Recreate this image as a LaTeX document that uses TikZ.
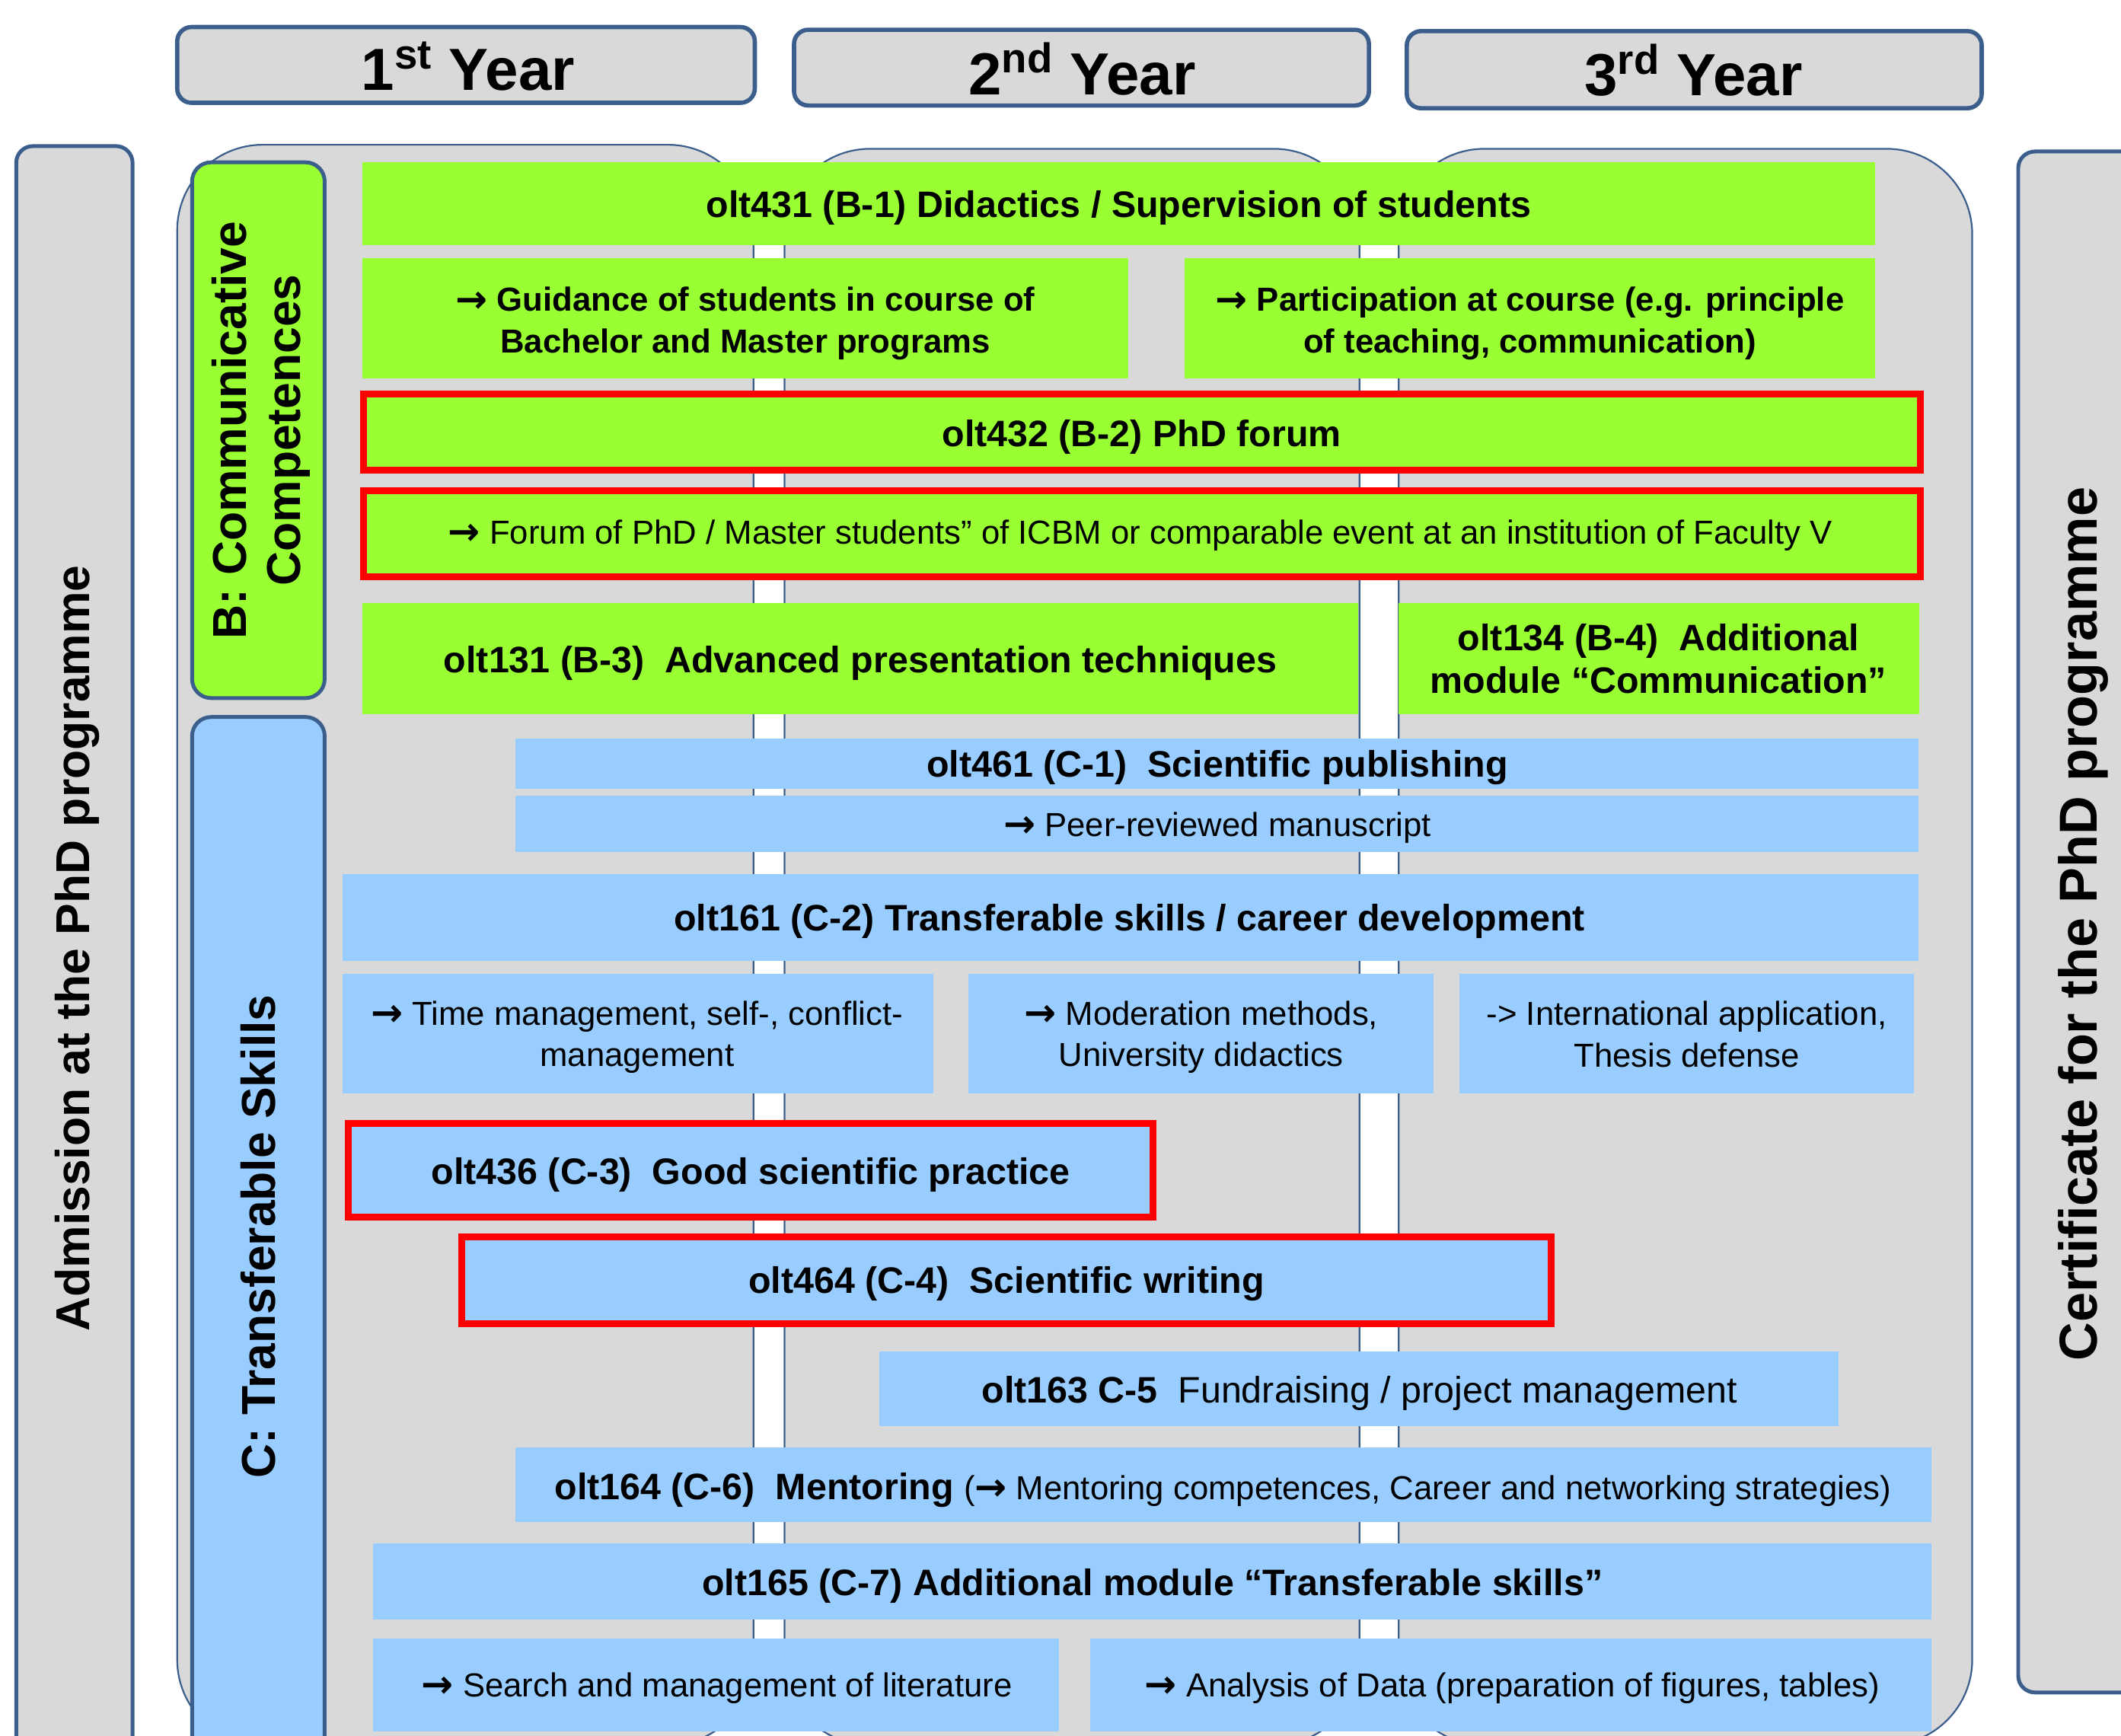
\documentclass[tikz,border=0pt]{standalone}
\usepackage{fontspec}
\setmainfont{Liberation Sans}
\newfontfamily\arrfont{DejaVu Sans}
\newcommand\rarr{\raisebox{-0.03em}{\scalebox{1.15}{\arrfont\bfseries\char"2192}}}
\definecolor{gfill}{HTML}{99FF33}
\definecolor{bfill}{HTML}{99CCFF}
\definecolor{pgray}{HTML}{D9D9D9}
\definecolor{edge}{HTML}{3B5E8C}
\definecolor{rred}{HTML}{FF0000}
\begin{document}
\begin{tikzpicture}[x=0.02cm,y=-0.02cm,
  panel/.style={fill=pgray, draw=edge, line width=0.7pt, rounded corners=36pt},
  hdr/.style={fill=pgray, draw=edge, line width=1.8pt, rounded corners=6pt},
  side/.style={fill=pgray, draw=edge, line width=1.6pt, rounded corners=7pt},
  cat/.style={draw=edge, line width=1.6pt, rounded corners=8pt},
  gbox/.style={fill=gfill},
  bbox/.style={fill=bfill},
  redbox/.style={draw=rred, line width=2.85pt},
  tb/.style={font=\fontsize{15.5}{18}\selectfont\bfseries, align=center, inner sep=0pt, yshift=-1.8pt},
  tbs/.style={font=\fontsize{14}{17.5}\selectfont\bfseries, align=center, inner sep=0pt, yshift=-1.8pt},
  tr/.style={font=\fontsize{14}{17.5}\selectfont, align=center, inner sep=0pt, yshift=-1.5pt},
  yr/.style={font=\fontsize{25}{30}\selectfont\bfseries, inner sep=0pt},
  vt/.style={font=\fontsize{20}{22.8}\selectfont\bfseries, rotate=90, align=center, inner sep=0pt}]
\useasboundingbox (0,0) rectangle (1568,1283);
\clip (0,0) rectangle (1568,1283);

% year headers
\draw[hdr] (131,20) rectangle (558,76);
\node[yr] (y1) at (346,49) {1\textsuperscript{st} Year};
\draw[hdr] (587,22) rectangle (1012,78);
\node[yr] (y2) at (800,51) {2\textsuperscript{nd} Year};
\draw[hdr] (1040,23) rectangle (1465,80);
\node[yr] (y3) at (1252,52) {3\textsuperscript{rd} Year};

% side boxes
\draw[side] (12,108) rectangle (98,1310);
\node[vt, font=\fontsize{20}{24}\selectfont\bfseries] (adm) at (57,701) {Admission at the PhD programme};
\draw[side] (1492,112) rectangle (1640,1251);
\node[vt, font=\fontsize{22.5}{27}\selectfont\bfseries] (cert) at (1540,683) {Certificate for the PhD programme};

% year panels
\draw[panel] (131,107) rectangle (557,1290);
\draw[panel] (580,110) rectangle (1005,1290);
\draw[panel] (1034,110) rectangle (1458,1290);

% category boxes
\draw[cat, fill=gfill] (142,120) rectangle (240,516);
\node[vt] (bt) at (193,318) {B: Communicative\\Competences};
\draw[cat, fill=bfill] (142,530) rectangle (240,1310);
\node[vt] (ct) at (191,914) {C: Transferable Skills};

% B modules
\fill[gbox] (268,120) rectangle (1386,181);
\node[tb] (b1) at (827,150.5) {olt431 (B-1) Didactics / Supervision of students};
\fill[gbox] (268,191) rectangle (834,280);
\node[tbs] (b1a) at (551,236) {\rarr{} Guidance of students in course of\\Bachelor and Master programs};
\fill[gbox] (876,191) rectangle (1386,280);
\node[tbs] (b1b) at (1131,236) {\rarr{} Participation at course (e.g. principle\\of teaching, communication)};
\filldraw[gbox, redbox] (268.5,291.5) rectangle (1419.5,347.5);
\node[tb] (b2) at (844,320) {olt432 (B-2) PhD forum};
\filldraw[gbox, redbox] (268.5,362.5) rectangle (1419.5,426.5);
\node[tr] (b2a) at (843,393) {\rarr{} Forum of PhD / Master students” of ICBM or comparable event at an institution of Faculty V};
\fill[gbox] (268,446) rectangle (1004,528);
\node[tb] (b3) at (636,487) {olt131 (B-3)\ \ Advanced presentation techniques};
\fill[gbox] (1034,446) rectangle (1419,528);
\node[tb, yshift=1.8pt] (b4) at (1226,487) {olt134 (B-4)\ \ Additional\\module “Communication”};

% C modules
\fill[bbox] (381,546) rectangle (1418,583);
\node[tb] (c1) at (900,564) {olt461 (C-1)\ \ Scientific publishing};
\fill[bbox] (381,588) rectangle (1418,630);
\node[tr] (c1a) at (900,609) {\rarr{} Peer-reviewed manuscript};
\fill[bbox] (253,646) rectangle (1418,710);
\node[tb] (c2) at (835,678) {olt161 (C-2) Transferable skills / career development};
\fill[bbox] (253,720) rectangle (690,808);
\node[tr] (c2a) at (471,764) {\rarr{} Time management, self-, conflict-\\management};
\fill[bbox] (716,720) rectangle (1060,808);
\node[tr] (c2b) at (888,764) {\rarr{} Moderation methods,\\University didactics};
\fill[bbox] (1079,720) rectangle (1415,808);
\node[tr, yshift=1.2pt] (c2c) at (1247,764) {-> International application,\\Thesis defense};
\filldraw[bbox, redbox] (257.5,830.5) rectangle (852.5,899.5);
\node[tb] (c3) at (555,865) {olt436 (C-3)\ \ Good scientific practice};
\filldraw[bbox, redbox] (341.5,914.5) rectangle (1146.5,978.5);
\node[tb] (c4) at (744,946) {olt464 (C-4)\ \ Scientific writing};
\fill[bbox] (650,999) rectangle (1359,1054);
\node[tb] (c5) at (1005,1027) {olt163 C-5\ \ {\mdseries Fundraising / project management}};
\fill[bbox] (381,1070) rectangle (1428,1125);
\node[tb, yshift=-0.8pt] (c6) at (904,1097) {olt164 (C-6)\ \ Mentoring {\mdseries\fontsize{14}{17}\selectfont (\rarr{} Mentoring competences, Career and networking strategies)}};
\fill[bbox] (276,1141) rectangle (1428,1197);
\node[tb] (c7) at (852,1169) {olt165 (C-7) Additional module “Transferable skills”};
\fill[bbox] (276,1211) rectangle (783,1280);
\node[tr] (c7a) at (530,1245) {\rarr{} Search and management of literature};
\fill[bbox] (806,1211) rectangle (1428,1280);
\node[tr] (c7b) at (1118,1245) {\rarr{} Analysis of Data (preparation of figures, tables)};
\end{tikzpicture}
\end{document}
